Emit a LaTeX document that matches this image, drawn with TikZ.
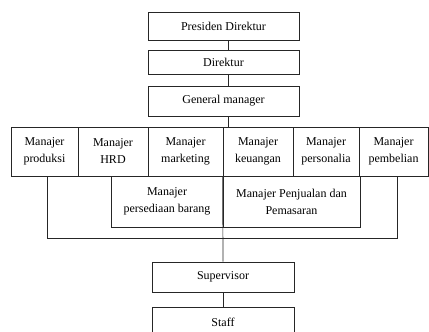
\documentclass[tikz,border=0pt]{standalone}
\usepackage{fontspec}
\setmainfont{Liberation Serif}
\begin{document}
\begin{tikzpicture}[x=1pt,y=-1pt,
    box/.style={draw=black!85, line width=0.7pt, inner sep=0pt, align=center,
      font=\fontsize{12}{17}\selectfont},
    link/.style={draw=black!85, line width=0.7pt}]
  \useasboundingbox (0,0) rectangle (429,332);

  \node[box, minimum width=151pt, minimum height=28pt] (presdir) at (223.5,26) {Presiden Direktur};
  \node[box, minimum width=151pt, minimum height=24pt] (direktur) at (223.5,62) {Direktur};
  \node[box, minimum width=151pt, minimum height=30pt] (gm) at (223.5,101) {General manager};
  \draw[link] ([xshift=4.5pt]presdir.south) -- ([xshift=4.5pt]direktur.north);
  \draw[link] ([xshift=4.5pt]direktur.south) -- ([xshift=4.5pt]gm.north);

  % baris manajer
  \node[box, minimum width=67pt, minimum height=49pt] (produksi) at (44.5,151.5) {Manajer\\produksi};
  \node[box, minimum width=70pt, minimum height=49pt] (hrd) at (113,151.5) {Manajer\\HRD};
  \node[box, minimum width=75pt, minimum height=49pt] (marketing) at (185.5,151.5) {Manajer\\marketing};
  \node[box, minimum width=70pt, minimum height=49pt] (keuangan) at (258,151.5) {Manajer\\keuangan};
  \node[box, minimum width=66pt, minimum height=49pt] (personalia) at (326,151.5) {Manajer\\personalia};
  \node[box, minimum width=69pt, minimum height=49pt] (pembelian) at (393.5,151.5) {Manajer\\pembelian};
  \draw[link] ([xshift=4.5pt]gm.south) -- ([xshift=4.5pt]gm.south |- marketing.north);

  \node[box, minimum width=112pt, minimum height=51pt] (persediaan) at (167,201.5) {Manajer\\persediaan barang};
  \node[box, minimum width=137pt, minimum height=51pt] (penjualan) at (291.5,201.5) {Manajer Penjualan dan\\Pemasaran};

  \node[box, minimum width=142pt, minimum height=30pt] (supervisor) at (223,277) {Supervisor};
  \node[box, minimum width=142pt, minimum height=30pt] (staff) at (223,322) {Staff};

  \coordinate (bus) at (397,238);
  \draw[link] ([xshift=2.5pt]produksi.south) |- (bus) -- ([xshift=3.5pt]pembelian.south);
  \draw[link] (keuangan.south west) -- (supervisor.north);
  \draw[link] (supervisor.south) -- (staff.north);
\end{tikzpicture}
\end{document}
